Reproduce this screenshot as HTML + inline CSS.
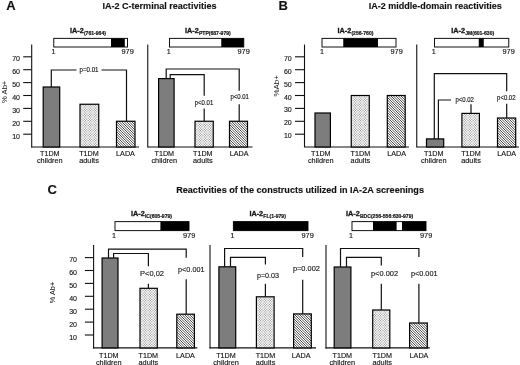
<!DOCTYPE html>
<html><head><meta charset="utf-8"><title>IA-2 reactivities</title>
<style>
html,body{margin:0;padding:0;background:#fff;}
body{width:520px;height:365px;overflow:hidden;font-family:"Liberation Sans",sans-serif;}
text{stroke:#222;stroke-width:0.15px;}
svg{display:block;font-family:"Liberation Sans",sans-serif;filter:grayscale(1);}
</style></head><body>
<svg width="520" height="365" viewBox="0 0 520 365">
<defs>
<pattern id="dots" width="5" height="5" patternUnits="userSpaceOnUse"><rect width="5" height="5" fill="#fff"/><circle cx="0.6" cy="0.6" r="0.56" fill="#808080"/><circle cx="3.1" cy="0.6" r="0.56" fill="#808080"/><circle cx="5.6" cy="0.6" r="0.56" fill="#808080"/><circle cx="1.85" cy="1.85" r="0.56" fill="#808080"/><circle cx="4.35" cy="1.85" r="0.56" fill="#808080"/><circle cx="0.6" cy="3.1" r="0.56" fill="#808080"/><circle cx="3.1" cy="3.1" r="0.56" fill="#808080"/><circle cx="5.6" cy="3.1" r="0.56" fill="#808080"/><circle cx="1.85" cy="4.35" r="0.56" fill="#808080"/><circle cx="4.35" cy="4.35" r="0.56" fill="#808080"/><circle cx="0.6" cy="5.6" r="0.56" fill="#808080"/><circle cx="3.1" cy="5.6" r="0.56" fill="#808080"/><circle cx="5.6" cy="5.6" r="0.56" fill="#808080"/></pattern>
<pattern id="hatch" width="5" height="5" patternUnits="userSpaceOnUse"><rect width="5" height="5" fill="#fff"/><line x1="-1" y1="-6" x2="6" y2="1" stroke="#2e2e2e" stroke-width="0.85"/><line x1="-1" y1="-3.5" x2="6" y2="3.5" stroke="#2e2e2e" stroke-width="0.85"/><line x1="-1" y1="-1" x2="6" y2="6" stroke="#2e2e2e" stroke-width="0.85"/><line x1="-1" y1="1.5" x2="6" y2="8.5" stroke="#2e2e2e" stroke-width="0.85"/><line x1="-1" y1="4" x2="6" y2="11" stroke="#2e2e2e" stroke-width="0.85"/></pattern>
</defs>
<rect width="520" height="365" fill="#fff"/>
<text x="6.2" y="10" font-size="13" text-anchor="start" font-weight="bold" fill="#111" >A</text>
<text x="102.4" y="9.4" font-size="9.05" text-anchor="start" font-weight="bold" fill="#111" >IA-2 C-terminal reactivities</text>
<rect x="53.75" y="38.4" width="73.75" height="8.600000000000001" fill="#fff" stroke="#111" stroke-width="1.0"/>
<rect x="111" y="38.4" width="13.799999999999997" height="8.600000000000001" fill="#000"/>
<text transform="translate(70,33) scale(0.9,1)" font-size="8.1" text-anchor="start" font-weight="bold" fill="#111" style="stroke-width:0.35px">IA-2</text>
<text transform="translate(83.9,34.9) scale(0.98,1)" font-size="5.2" text-anchor="start" font-weight="bold" fill="#111" style="stroke-width:0.2px">(761-964)</text>
<text transform="translate(53.5,54.2) scale(0.95,1)" font-size="7.6" text-anchor="middle" fill="#111" >1</text>
<text transform="translate(121.5,54.2) scale(0.95,1)" font-size="7.8" text-anchor="start" fill="#111" >979</text>
<line x1="31.7" y1="44.5" x2="31.7" y2="147.5" stroke="#111" stroke-width="1.1"/>
<line x1="23.2" y1="134.2" x2="31.7" y2="134.2" stroke="#111" stroke-width="1.1"/>
<text transform="translate(20.0,138.79999999999998) scale(0.88,1)" font-size="8.0" text-anchor="end" fill="#111" >10</text>
<line x1="23.2" y1="121.3" x2="31.7" y2="121.3" stroke="#111" stroke-width="1.1"/>
<text transform="translate(20.0,125.89999999999999) scale(0.88,1)" font-size="8.0" text-anchor="end" fill="#111" >20</text>
<line x1="23.2" y1="108.39999999999999" x2="31.7" y2="108.39999999999999" stroke="#111" stroke-width="1.1"/>
<text transform="translate(20.0,112.99999999999999) scale(0.88,1)" font-size="8.0" text-anchor="end" fill="#111" >30</text>
<line x1="23.2" y1="95.5" x2="31.7" y2="95.5" stroke="#111" stroke-width="1.1"/>
<text transform="translate(20.0,100.1) scale(0.88,1)" font-size="8.0" text-anchor="end" fill="#111" >40</text>
<line x1="23.2" y1="82.6" x2="31.7" y2="82.6" stroke="#111" stroke-width="1.1"/>
<text transform="translate(20.0,87.19999999999999) scale(0.88,1)" font-size="8.0" text-anchor="end" fill="#111" >50</text>
<line x1="23.2" y1="69.69999999999999" x2="31.7" y2="69.69999999999999" stroke="#111" stroke-width="1.1"/>
<text transform="translate(20.0,74.29999999999998) scale(0.88,1)" font-size="8.0" text-anchor="end" fill="#111" >60</text>
<line x1="23.2" y1="56.8" x2="31.7" y2="56.8" stroke="#111" stroke-width="1.1"/>
<text transform="translate(20.0,61.4) scale(0.88,1)" font-size="8.0" text-anchor="end" fill="#111" >70</text>
<line x1="31.2" y1="147" x2="139" y2="147" stroke="#111" stroke-width="1.2"/>
<rect x="43.2" y="87" width="16.5" height="60" fill="#7d7d7d" stroke="#000" stroke-width="1.2"/>
<rect x="80" y="104.25" width="18.75" height="42.75" fill="url(#dots)" stroke="#000" stroke-width="1.2"/>
<rect x="116.5" y="121.25" width="18.5" height="25.75" fill="url(#hatch)" stroke="#000" stroke-width="1.2"/>
<polyline points="51.3,87 51.3,70 76.5,70" fill="none" stroke="#111" stroke-width="1.2"/>
<polyline points="101.5,70 126.5,70 126.5,121.25" fill="none" stroke="#111" stroke-width="1.2"/>
<text transform="translate(89,72.1) scale(0.95,1)" font-size="6.5" text-anchor="middle" fill="#111" >p=0.01</text>
<text transform="translate(49.8,155.6) scale(0.9,1)" font-size="8.0" text-anchor="middle" fill="#111" >T1DM</text>
<text transform="translate(49.8,163.1) scale(0.92,1)" font-size="8.0" text-anchor="middle" fill="#111" >children</text>
<text transform="translate(89,155.6) scale(0.9,1)" font-size="8.0" text-anchor="middle" fill="#111" >T1DM</text>
<text transform="translate(89,163.1) scale(0.92,1)" font-size="8.0" text-anchor="middle" fill="#111" >adults</text>
<text transform="translate(125.5,155.8) scale(0.9,1)" font-size="8.0" text-anchor="middle" fill="#111" >LADA</text>
<text transform="translate(6.6,91.8) rotate(-90)" style="stroke:none" font-size="7.6" text-anchor="middle" fill="#111">% Ab+</text>
<rect x="169.5" y="38.4" width="74.25" height="8.600000000000001" fill="#fff" stroke="#111" stroke-width="1.0"/>
<rect x="221.25" y="38.4" width="22.5" height="8.600000000000001" fill="#000"/>
<text transform="translate(185,33) scale(0.9,1)" font-size="8.1" text-anchor="start" font-weight="bold" fill="#111" style="stroke-width:0.35px">IA-2</text>
<text transform="translate(198.9,34.9) scale(0.98,1)" font-size="5.2" text-anchor="start" font-weight="bold" fill="#111" style="stroke-width:0.2px">PTP(687-979)</text>
<text transform="translate(168.75,54.2) scale(0.95,1)" font-size="7.6" text-anchor="middle" fill="#111" >1</text>
<text transform="translate(237.5,54.2) scale(0.95,1)" font-size="7.8" text-anchor="start" fill="#111" >979</text>
<line x1="147.75" y1="44.5" x2="147.75" y2="147.5" stroke="#111" stroke-width="1.1"/>
<line x1="147.75" y1="147" x2="252.5" y2="147" stroke="#111" stroke-width="1.1"/>
<rect x="158.6" y="78.6" width="15.5" height="68.4" fill="#7d7d7d" stroke="#000" stroke-width="1.2"/>
<rect x="195" y="121.25" width="18.25" height="25.75" fill="url(#dots)" stroke="#000" stroke-width="1.2"/>
<rect x="229.5" y="121.25" width="18.0" height="25.75" fill="url(#hatch)" stroke="#000" stroke-width="1.2"/>
<polyline points="166.2,78.6 166.2,69.0 239.2,69.0 239.2,90.8" fill="none" stroke="#111" stroke-width="1.2"/>
<line x1="239.2" y1="104.2" x2="239.2" y2="121.25" stroke="#111" stroke-width="1.2"/>
<polyline points="170.2,78.6 170.2,74.6 204.2,74.6 204.2,95.8" fill="none" stroke="#111" stroke-width="1.2"/>
<line x1="204.2" y1="108.5" x2="204.2" y2="121.25" stroke="#111" stroke-width="1.2"/>
<text transform="translate(204,105.3) scale(0.95,1)" font-size="6.3" text-anchor="middle" fill="#111" >p&lt;0.01</text>
<text transform="translate(239.6,99.1) scale(0.95,1)" font-size="6.3" text-anchor="middle" fill="#111" >p&lt;0.01</text>
<text transform="translate(164.3,155.8) scale(0.9,1)" font-size="8.0" text-anchor="middle" fill="#111" >T1DM</text>
<text transform="translate(164.3,163.3) scale(0.92,1)" font-size="8.0" text-anchor="middle" fill="#111" >children</text>
<text transform="translate(202.8,155.8) scale(0.9,1)" font-size="8.0" text-anchor="middle" fill="#111" >T1DM</text>
<text transform="translate(202.8,163.3) scale(0.92,1)" font-size="8.0" text-anchor="middle" fill="#111" >adults</text>
<text transform="translate(239.2,155.8) scale(0.9,1)" font-size="8.0" text-anchor="middle" fill="#111" >LADA</text>
<text x="278.5" y="10" font-size="13" text-anchor="start" font-weight="bold" fill="#111" >B</text>
<text x="368.7" y="9.4" font-size="9.0" text-anchor="start" font-weight="bold" fill="#111" >IA-2 middle-domain reactivities</text>
<rect x="322" y="38.4" width="74" height="8.600000000000001" fill="#fff" stroke="#111" stroke-width="1.0"/>
<rect x="343.25" y="38.4" width="34.75" height="8.600000000000001" fill="#000"/>
<text transform="translate(337.5,33) scale(0.9,1)" font-size="8.1" text-anchor="start" font-weight="bold" fill="#111" style="stroke-width:0.35px">IA-2</text>
<text transform="translate(351.4,34.9) scale(0.98,1)" font-size="5.2" text-anchor="start" font-weight="bold" fill="#111" style="stroke-width:0.2px">(256-760)</text>
<text transform="translate(322,54.2) scale(0.95,1)" font-size="7.6" text-anchor="middle" fill="#111" >1</text>
<text transform="translate(390.5,54.2) scale(0.95,1)" font-size="7.8" text-anchor="start" fill="#111" >979</text>
<line x1="304.5" y1="44.5" x2="304.5" y2="147.5" stroke="#111" stroke-width="1.1"/>
<line x1="295.0" y1="134.2" x2="304.5" y2="134.2" stroke="#111" stroke-width="1.1"/>
<text transform="translate(291.7,138.2) scale(0.88,1)" font-size="8.0" text-anchor="end" fill="#111" >10</text>
<line x1="295.0" y1="121.3" x2="304.5" y2="121.3" stroke="#111" stroke-width="1.1"/>
<text transform="translate(291.7,125.3) scale(0.88,1)" font-size="8.0" text-anchor="end" fill="#111" >20</text>
<line x1="295.0" y1="108.39999999999999" x2="304.5" y2="108.39999999999999" stroke="#111" stroke-width="1.1"/>
<text transform="translate(291.7,112.39999999999999) scale(0.88,1)" font-size="8.0" text-anchor="end" fill="#111" >30</text>
<line x1="295.0" y1="95.5" x2="304.5" y2="95.5" stroke="#111" stroke-width="1.1"/>
<text transform="translate(291.7,99.5) scale(0.88,1)" font-size="8.0" text-anchor="end" fill="#111" >40</text>
<line x1="295.0" y1="82.6" x2="304.5" y2="82.6" stroke="#111" stroke-width="1.1"/>
<text transform="translate(291.7,86.6) scale(0.88,1)" font-size="8.0" text-anchor="end" fill="#111" >50</text>
<line x1="295.0" y1="69.69999999999999" x2="304.5" y2="69.69999999999999" stroke="#111" stroke-width="1.1"/>
<text transform="translate(291.7,73.69999999999999) scale(0.88,1)" font-size="8.0" text-anchor="end" fill="#111" >60</text>
<line x1="295.0" y1="56.8" x2="304.5" y2="56.8" stroke="#111" stroke-width="1.1"/>
<text transform="translate(291.7,60.8) scale(0.88,1)" font-size="8.0" text-anchor="end" fill="#111" >70</text>
<line x1="305" y1="147" x2="409" y2="147" stroke="#111" stroke-width="1.1"/>
<rect x="315" y="113" width="15.399999999999977" height="34" fill="#7d7d7d" stroke="#000" stroke-width="1.2"/>
<rect x="351.25" y="95.5" width="18.0" height="51.5" fill="url(#dots)" stroke="#000" stroke-width="1.2"/>
<rect x="387.3" y="95.5" width="17.899999999999977" height="51.5" fill="url(#hatch)" stroke="#000" stroke-width="1.2"/>
<text transform="translate(320.8,155.8) scale(0.9,1)" font-size="8.0" text-anchor="middle" fill="#111" >T1DM</text>
<text transform="translate(320.8,163.3) scale(0.92,1)" font-size="8.0" text-anchor="middle" fill="#111" >children</text>
<text transform="translate(360.4,155.8) scale(0.9,1)" font-size="8.0" text-anchor="middle" fill="#111" >T1DM</text>
<text transform="translate(360.4,163.3) scale(0.92,1)" font-size="8.0" text-anchor="middle" fill="#111" >adults</text>
<text transform="translate(396.6,155.8) scale(0.9,1)" font-size="8.0" text-anchor="middle" fill="#111" >LADA</text>
<text transform="translate(278.8,85.8) rotate(-90)" style="stroke:none" font-size="8" text-anchor="middle" fill="#111">%Ab+</text>
<rect x="434.5" y="38.4" width="74.25" height="8.600000000000001" fill="#fff" stroke="#111" stroke-width="1.0"/>
<rect x="478.75" y="38.4" width="5.0" height="8.600000000000001" fill="#000"/>
<text transform="translate(451.25,33) scale(0.9,1)" font-size="8.1" text-anchor="start" font-weight="bold" fill="#111" style="stroke-width:0.35px">IA-2</text>
<text transform="translate(465.15,34.9) scale(0.98,1)" font-size="5.2" text-anchor="start" font-weight="bold" fill="#111" style="stroke-width:0.2px">JM(601-630)</text>
<text transform="translate(433.75,54.2) scale(0.95,1)" font-size="7.6" text-anchor="middle" fill="#111" >1</text>
<text transform="translate(502.5,54.2) scale(0.95,1)" font-size="7.8" text-anchor="start" fill="#111" >979</text>
<line x1="416.75" y1="44.5" x2="416.75" y2="147.5" stroke="#111" stroke-width="1.1"/>
<line x1="416.75" y1="147" x2="519" y2="147" stroke="#111" stroke-width="1.1"/>
<rect x="426.5" y="138.9" width="17.19999999999999" height="8.099999999999994" fill="#7d7d7d" stroke="#000" stroke-width="1.2"/>
<rect x="461.9" y="113.4" width="17.5" height="33.599999999999994" fill="url(#dots)" stroke="#000" stroke-width="1.2"/>
<rect x="497.5" y="118.0" width="18.200000000000045" height="29.0" fill="url(#hatch)" stroke="#000" stroke-width="1.2"/>
<polyline points="434.3,138.9 434.3,73.6 506.7,73.6 506.7,91.2" fill="none" stroke="#111" stroke-width="1.2"/>
<line x1="506.7" y1="103.8" x2="506.7" y2="118" stroke="#111" stroke-width="1.2"/>
<polyline points="438.4,138.9 438.4,100 451,100" fill="none" stroke="#111" stroke-width="1.2"/>
<line x1="471" y1="104.3" x2="471" y2="113.4" stroke="#111" stroke-width="1.2"/>
<text transform="translate(464.6,101.8) scale(0.95,1)" font-size="6.3" text-anchor="middle" fill="#111" >p&lt;0.02</text>
<text transform="translate(506.3,100.3) scale(0.95,1)" font-size="6.3" text-anchor="middle" fill="#111" >p&lt;0.02</text>
<text transform="translate(433.75,155.8) scale(0.9,1)" font-size="8.0" text-anchor="middle" fill="#111" >T1DM</text>
<text transform="translate(433.75,163.3) scale(0.92,1)" font-size="8.0" text-anchor="middle" fill="#111" >children</text>
<text transform="translate(471,155.8) scale(0.9,1)" font-size="8.0" text-anchor="middle" fill="#111" >T1DM</text>
<text transform="translate(471,163.3) scale(0.92,1)" font-size="8.0" text-anchor="middle" fill="#111" >adults</text>
<text transform="translate(506.75,155.8) scale(0.9,1)" font-size="8.0" text-anchor="middle" fill="#111" >LADA</text>
<text x="47.5" y="193.8" font-size="13" text-anchor="start" font-weight="bold" fill="#111" >C</text>
<text x="176.2" y="193.2" font-size="9.1" text-anchor="start" font-weight="bold" fill="#111" >Reactivities of the constructs utilized in IA-2A screenings</text>
<rect x="115" y="221.6" width="74" height="9.0" fill="#fff" stroke="#111" stroke-width="1.0"/>
<rect x="160.4" y="221.6" width="28.599999999999994" height="9.0" fill="#000"/>
<text transform="translate(131,216) scale(0.9,1)" font-size="8.1" text-anchor="start" font-weight="bold" fill="#111" style="stroke-width:0.35px">IA-2</text>
<text transform="translate(144.9,217.9) scale(0.98,1)" font-size="5.2" text-anchor="start" font-weight="bold" fill="#111" style="stroke-width:0.2px">IC(605-979)</text>
<text transform="translate(114,238) scale(0.95,1)" font-size="7.6" text-anchor="middle" fill="#111" >1</text>
<text transform="translate(183,238) scale(0.95,1)" font-size="7.8" text-anchor="start" fill="#111" >979</text>
<line x1="93.6" y1="245" x2="93.6" y2="348.4" stroke="#111" stroke-width="1.1"/>
<line x1="84.89999999999999" y1="335.0" x2="93.6" y2="335.0" stroke="#111" stroke-width="1.1"/>
<text transform="translate(77,339.6) scale(0.88,1)" font-size="8.0" text-anchor="end" fill="#111" >10</text>
<line x1="84.89999999999999" y1="322.09999999999997" x2="93.6" y2="322.09999999999997" stroke="#111" stroke-width="1.1"/>
<text transform="translate(77,326.7) scale(0.88,1)" font-size="8.0" text-anchor="end" fill="#111" >20</text>
<line x1="84.89999999999999" y1="309.2" x2="93.6" y2="309.2" stroke="#111" stroke-width="1.1"/>
<text transform="translate(77,313.8) scale(0.88,1)" font-size="8.0" text-anchor="end" fill="#111" >30</text>
<line x1="84.89999999999999" y1="296.29999999999995" x2="93.6" y2="296.29999999999995" stroke="#111" stroke-width="1.1"/>
<text transform="translate(77,300.9) scale(0.88,1)" font-size="8.0" text-anchor="end" fill="#111" >40</text>
<line x1="84.89999999999999" y1="283.4" x2="93.6" y2="283.4" stroke="#111" stroke-width="1.1"/>
<text transform="translate(77,288.0) scale(0.88,1)" font-size="8.0" text-anchor="end" fill="#111" >50</text>
<line x1="84.89999999999999" y1="270.5" x2="93.6" y2="270.5" stroke="#111" stroke-width="1.1"/>
<text transform="translate(77,275.1) scale(0.88,1)" font-size="8.0" text-anchor="end" fill="#111" >60</text>
<line x1="84.89999999999999" y1="257.59999999999997" x2="93.6" y2="257.59999999999997" stroke="#111" stroke-width="1.1"/>
<text transform="translate(77,262.2) scale(0.88,1)" font-size="8.0" text-anchor="end" fill="#111" >70</text>
<line x1="93.1" y1="347.9" x2="197.3" y2="347.9" stroke="#111" stroke-width="1.2"/>
<rect x="102.1" y="258.0" width="15.900000000000006" height="89.89999999999998" fill="#7d7d7d" stroke="#000" stroke-width="1.2"/>
<rect x="140" y="288.3" width="17.30000000000001" height="59.599999999999966" fill="url(#dots)" stroke="#000" stroke-width="1.2"/>
<rect x="176.8" y="314.2" width="17.599999999999994" height="33.69999999999999" fill="url(#hatch)" stroke="#000" stroke-width="1.2"/>
<polyline points="108.5,258 108.5,249.2 186.2,249.2 186.2,257.7" fill="none" stroke="#111" stroke-width="1.2"/>
<line x1="186.2" y1="279.2" x2="186.2" y2="314.2" stroke="#111" stroke-width="1.2"/>
<polyline points="113.6,258 113.6,253.5 148.4,253.5 148.4,266.2" fill="none" stroke="#111" stroke-width="1.2"/>
<line x1="148.4" y1="283.8" x2="148.4" y2="288.3" stroke="#111" stroke-width="1.2"/>
<text transform="translate(152,276.2) scale(0.938,1)" font-size="8" text-anchor="middle" fill="#111" >P&lt;0,02</text>
<text transform="translate(191.3,271.5) scale(0.909,1)" font-size="8" text-anchor="middle" fill="#111" >p&lt;0.001</text>
<text transform="translate(108.8,357.9) scale(0.9,1)" font-size="8.0" text-anchor="middle" fill="#111" >T1DM</text>
<text transform="translate(108.8,365.4) scale(0.92,1)" font-size="8.0" text-anchor="middle" fill="#111" >children</text>
<text transform="translate(148.3,357.9) scale(0.9,1)" font-size="8.0" text-anchor="middle" fill="#111" >T1DM</text>
<text transform="translate(148.3,365.4) scale(0.92,1)" font-size="8.0" text-anchor="middle" fill="#111" >adults</text>
<text transform="translate(185.5,357.9) scale(0.9,1)" font-size="8.0" text-anchor="middle" fill="#111" >LADA</text>
<text transform="translate(54.8,292.5) rotate(-90)" style="stroke:none" font-size="7.3" text-anchor="middle" fill="#111">% Ab+</text>
<rect x="233.4" y="221.6" width="74.6" height="9.0" fill="#fff" stroke="#111" stroke-width="1.0"/>
<rect x="233.4" y="221.6" width="74.6" height="9.0" fill="#000"/>
<text transform="translate(249.4,216) scale(0.9,1)" font-size="8.1" text-anchor="start" font-weight="bold" fill="#111" style="stroke-width:0.35px">IA-2</text>
<text transform="translate(263.3,217.9) scale(0.98,1)" font-size="5.2" text-anchor="start" font-weight="bold" fill="#111" style="stroke-width:0.2px">FL(1-979)</text>
<text transform="translate(232.6,238) scale(0.95,1)" font-size="7.6" text-anchor="middle" fill="#111" >1</text>
<text transform="translate(301.4,238) scale(0.95,1)" font-size="7.8" text-anchor="start" fill="#111" >979</text>
<line x1="210" y1="245" x2="210" y2="348.4" stroke="#111" stroke-width="1.1"/>
<line x1="209.5" y1="347.9" x2="316" y2="347.9" stroke="#111" stroke-width="1.2"/>
<rect x="218.9" y="266.8" width="16.799999999999983" height="81.09999999999997" fill="#7d7d7d" stroke="#000" stroke-width="1.2"/>
<rect x="256.4" y="296.8" width="17.700000000000045" height="51.099999999999966" fill="url(#dots)" stroke="#000" stroke-width="1.2"/>
<rect x="293.6" y="313.9" width="17.69999999999999" height="34.0" fill="url(#hatch)" stroke="#000" stroke-width="1.2"/>
<polyline points="224.6,266.8 224.6,248.5 302.7,248.5 302.7,257" fill="none" stroke="#111" stroke-width="1.2"/>
<line x1="302.7" y1="279.7" x2="302.7" y2="313.9" stroke="#111" stroke-width="1.2"/>
<polyline points="230.5,266.8 230.5,257.4 265.4,257.4 265.4,264.6" fill="none" stroke="#111" stroke-width="1.2"/>
<line x1="265.4" y1="283.8" x2="265.4" y2="296.8" stroke="#111" stroke-width="1.2"/>
<text transform="translate(268,277.7) scale(0.899,1)" font-size="8" text-anchor="middle" fill="#111" >p=0.03</text>
<text transform="translate(306.4,270.8) scale(0.927,1)" font-size="8" text-anchor="middle" fill="#111" >p=0.002</text>
<text transform="translate(226,357.9) scale(0.9,1)" font-size="8.0" text-anchor="middle" fill="#111" >T1DM</text>
<text transform="translate(226,365.4) scale(0.92,1)" font-size="8.0" text-anchor="middle" fill="#111" >children</text>
<text transform="translate(265.5,357.9) scale(0.9,1)" font-size="8.0" text-anchor="middle" fill="#111" >T1DM</text>
<text transform="translate(265.5,365.4) scale(0.92,1)" font-size="8.0" text-anchor="middle" fill="#111" >adults</text>
<text transform="translate(301.2,357.9) scale(0.9,1)" font-size="8.0" text-anchor="middle" fill="#111" >LADA</text>
<rect x="352" y="221.6" width="74" height="9.0" fill="#fff" stroke="#111" stroke-width="1.0"/>
<rect x="373" y="221.6" width="23.600000000000023" height="9.0" fill="#000"/>
<rect x="402" y="221.6" width="24" height="9.0" fill="#000"/>
<text transform="translate(346,216) scale(0.9,1)" font-size="8.1" text-anchor="start" font-weight="bold" fill="#111" style="stroke-width:0.35px">IA-2</text>
<text transform="translate(359.9,217.9) scale(0.98,1)" font-size="5.2" text-anchor="start" font-weight="bold" fill="#111" style="stroke-width:0.2px">BDC(256-556:630-979)</text>
<text transform="translate(351,238) scale(0.95,1)" font-size="7.6" text-anchor="middle" fill="#111" >1</text>
<text transform="translate(420,238) scale(0.95,1)" font-size="7.8" text-anchor="start" fill="#111" >979</text>
<line x1="326" y1="245" x2="326" y2="348.4" stroke="#111" stroke-width="1.1"/>
<line x1="325.5" y1="347.9" x2="429.8" y2="347.9" stroke="#111" stroke-width="1.2"/>
<rect x="334.2" y="267" width="16.69999999999999" height="80.89999999999998" fill="#7d7d7d" stroke="#000" stroke-width="1.2"/>
<rect x="372.7" y="310" width="17.100000000000023" height="37.89999999999998" fill="url(#dots)" stroke="#000" stroke-width="1.2"/>
<rect x="409.6" y="323" width="17.69999999999999" height="24.899999999999977" fill="url(#hatch)" stroke="#000" stroke-width="1.2"/>
<polyline points="340.5,267 340.5,248.5 418.9,248.5 418.9,257" fill="none" stroke="#111" stroke-width="1.2"/>
<line x1="418.9" y1="283.8" x2="418.9" y2="323" stroke="#111" stroke-width="1.2"/>
<polyline points="346.5,267 346.5,257.4 381.3,257.4 381.3,265.4" fill="none" stroke="#111" stroke-width="1.2"/>
<line x1="381.3" y1="283.8" x2="381.3" y2="310" stroke="#111" stroke-width="1.2"/>
<text transform="translate(384.5,276.2) scale(0.93,1)" font-size="8" text-anchor="middle" fill="#111" >p&lt;0.002</text>
<text transform="translate(424.2,276.2) scale(0.916,1)" font-size="8" text-anchor="middle" fill="#111" >p&lt;0.001</text>
<text transform="translate(342.3,357.9) scale(0.9,1)" font-size="8.0" text-anchor="middle" fill="#111" >T1DM</text>
<text transform="translate(342.3,365.4) scale(0.92,1)" font-size="8.0" text-anchor="middle" fill="#111" >children</text>
<text transform="translate(382.2,357.9) scale(0.9,1)" font-size="8.0" text-anchor="middle" fill="#111" >T1DM</text>
<text transform="translate(382.2,365.4) scale(0.92,1)" font-size="8.0" text-anchor="middle" fill="#111" >adults</text>
<text transform="translate(419,357.9) scale(0.9,1)" font-size="8.0" text-anchor="middle" fill="#111" >LADA</text>
</svg>
</body></html>
